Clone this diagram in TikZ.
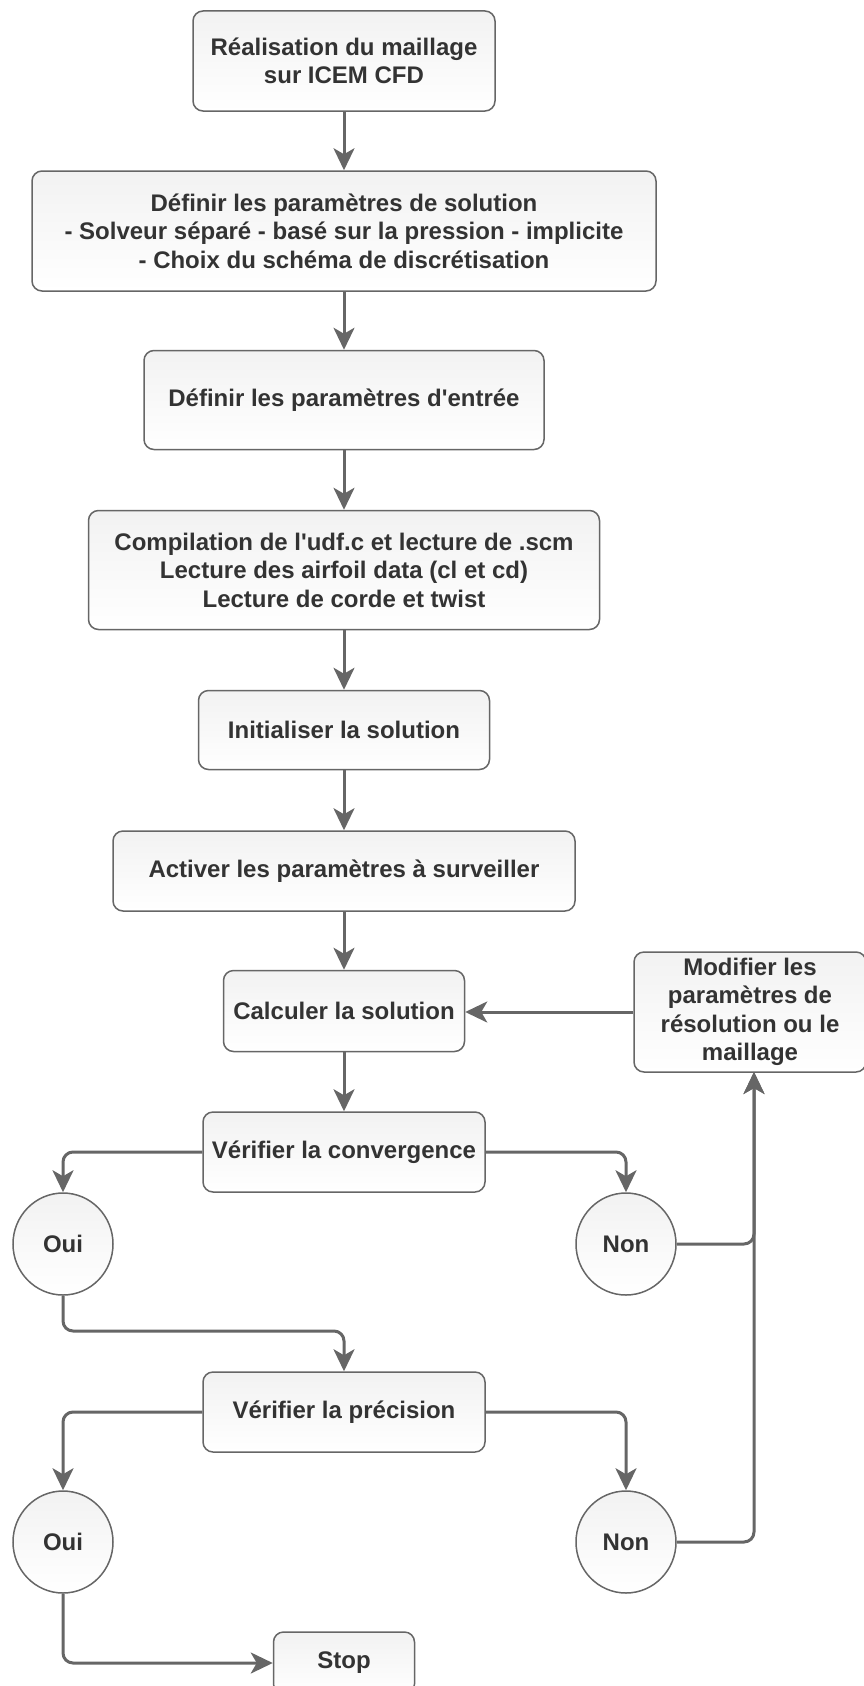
\documentclass[tikz,border=0pt]{standalone}
\usepackage{fontspec}
\newfontfamily\lsans{Liberation Sans}
\usetikzlibrary{arrows.meta,shapes.geometric}
\definecolor{txt}{HTML}{333333}
\definecolor{ln}{HTML}{666666}
\definecolor{fillg}{HTML}{F2F2F2}
\tikzset{
  base/.style={draw=ln, line width=1.5pt, top color=fillg, bottom color=white,
    text=txt, font=\lsans\bfseries\fontsize{24}{28.5}\selectfont, align=center, inner sep=0pt},
  box/.style n args={2}{base, rounded corners=10pt, minimum width=#1, minimum height=#2},
  oval/.style={base, ellipse, minimum width=100, minimum height=102},
  arr/.style={draw=ln, line width=3pt, rounded corners=10pt,
    -{Stealth[length=22pt,width=21pt,inset=6pt]}},
  seg/.style={draw=ln, line width=3pt, rounded corners=10pt}
}
\begin{document}
\begin{tikzpicture}[x=1pt,y=-1pt]
\useasboundingbox (0,0) rectangle (864,1686);
\node[box={302}{100}] (b1) at (344,61) {Réalisation du maillage\\sur ICEM CFD};
\node[box={624}{120}] (b2) at (344,231) {Définir les paramètres de solution\\- Solveur séparé - basé sur la pression - implicite\\- Choix du schéma de discrétisation};
\node[box={400}{99}] (b3) at (344,400) {Définir les paramètres d'entrée};
\node[box={511}{119}] (b4) at (344,570) {Compilation de l'udf.c et lecture de .scm\\Lecture des airfoil data (cl et cd)\\Lecture de corde et twist};
\node[box={291}{79}] (b5) at (344,730) {Initialiser la solution};
\node[box={462}{80}] (b6) at (344,871) {Activer les paramètres à surveiller};
\node[box={241}{81}] (b7) at (344,1011) {Calculer la solution};
\node[box={232}{120}] (mod) at (750,1012) {Modifier les\\paramètres de\\résolution ou le\\maillage};
\node[box={282}{80}] (b8) at (344,1152) {Vérifier la convergence};
\node[oval] (oui1) at (63,1244) {Oui};
\node[oval] (non1) at (626,1244) {Non};
\node[box={282}{80}] (b9) at (344,1412) {Vérifier la précision};
\node[oval] (oui2) at (63,1542) {Oui};
\node[oval] (non2) at (626,1542) {Non};
\node[box={141}{62}] (stop) at (344,1663) {Stop};
\coordinate (rx) at (754,1072);
\coordinate (k1) at (200,1331);

\draw[arr] (b1) -- (b2);
\draw[arr] (b2) -- (b3);
\draw[arr] (b3) -- (b4);
\draw[arr] (b4) -- (b5);
\draw[arr] (b5) -- (b6);
\draw[arr] (b6) -- (b7);
\draw[arr] (b7) -- (b8);
\draw[arr] (mod.west) -- (mod.west -| b7.east);
\draw[arr] (b8.west) -| (oui1.north);
\draw[arr] (b8.east) -| (non1.north);
\draw[arr] (non1.east) -| (rx);
\draw[arr] (non2.east) -| (rx);
\draw[arr] (oui1.south) |- (k1) -| (b9.north);
\draw[arr] (b9.west) -| (oui2.north);
\draw[arr] (b9.east) -| (non2.north);
\draw[arr] (oui2.south) |- (stop.west);
\end{tikzpicture}
\end{document}
